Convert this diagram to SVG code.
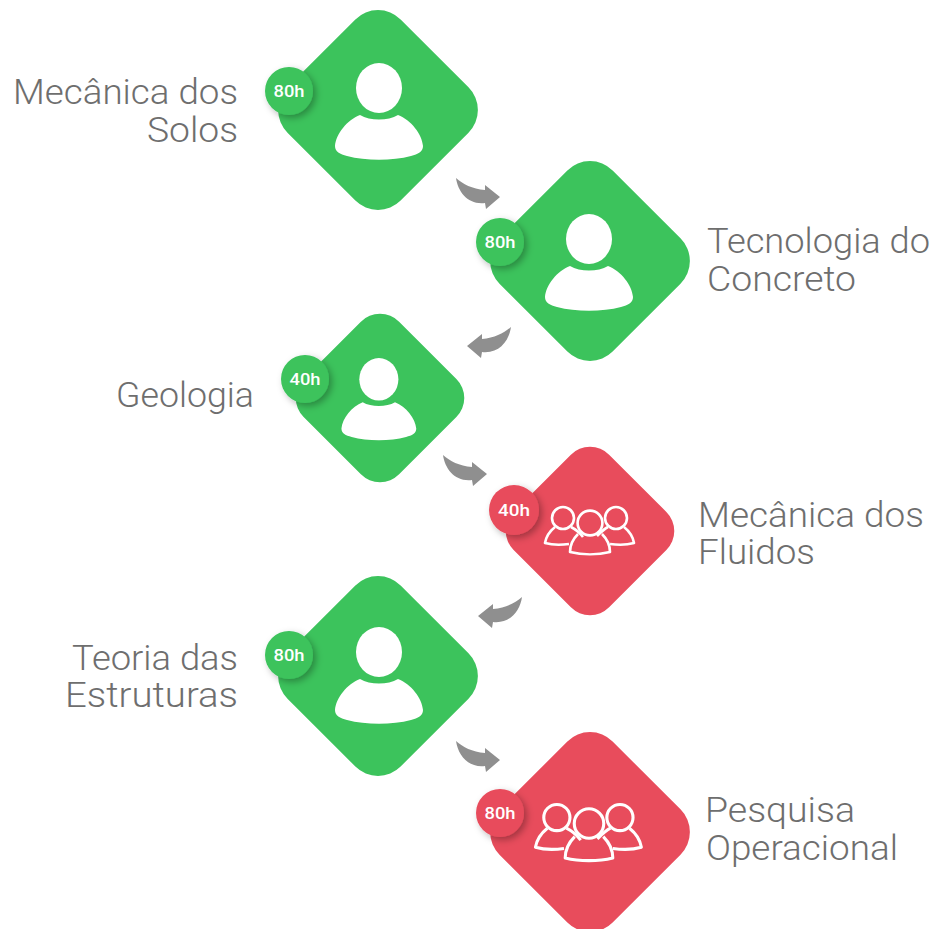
<svg xmlns="http://www.w3.org/2000/svg" width="937" height="929" viewBox="0 0 937 929">
<style>
.g{fill:#3cc35c}.r{fill:#e84c5c}
.lbl{font-family:"Roboto","Liberation Sans",sans-serif;font-weight:300;font-size:35px;fill:#6e6e6e}
.end{text-anchor:end}
.bt{font-family:"Roboto","Liberation Sans",sans-serif;font-weight:500;font-size:17px;fill:#fff;text-anchor:middle}
.arrow{fill:#8f8f8f}
.w{fill:#fff}
.o{fill:none;stroke:#fff;stroke-width:2.6;stroke-linejoin:round}
.badge{filter:url(#sh)}
</style>
<defs>
<filter id="sh" x="-40%" y="-40%" width="190%" height="190%"><feDropShadow dx="3" dy="3" stdDeviation="3.5" flood-color="#000" flood-opacity="0.3"/></filter>
<rect id="dl" x="-80" y="-80" width="160" height="160" rx="32" transform="rotate(45)"/>
<rect id="ds" x="-67.5" y="-67.5" width="135" height="135" rx="27" transform="rotate(45)"/>
<g id="person" class="w">
<ellipse cx="1" cy="-22" rx="23" ry="25"/>
<path d="M-18 5C-8 11 10 11 20 5C33 10 44 24 45 36C45 42 40 44 33 46C14 51-12 51-31 46C-38 44-43 42-43 36C-42 24-31 10-18 5Z"/>
</g>
<g id="team" class="o">
<circle cx="-27" cy="-13" r="11"/>
<circle cx="26" cy="-13" r="11"/>
<path d="M-35-4C-40 0-44 6-45 12C-38 14-28 14-21 13"/>
<path d="M-19-4C-15-2-10 2-7 6"/>
<path d="M34-4C39 0 43 6 44 12C37 14 27 14 20 13"/>
<path d="M18-4C14-2 10 2 7 5"/>
<circle cx="0" cy="-8" r="12.4"/>
<path d="M-12 3C-17 8-20 14-20 21C-8 24 8 24 20 21C20 14 17 8 12 3"/>
</g>
<path id="ar" d="M0 0C7 6 16 11 29 12L29 7L44 19L30 31L29 25C12 27 2 14 0 0Z"/>
</defs>
<rect width="937" height="929" fill="#fff"/>
<g id="connectors" class="arrow">
<use href="#ar" transform="translate(456 178)"/>
<use href="#ar" transform="translate(511 327) scale(-1 1)"/>
<use href="#ar" transform="translate(443 455)"/>
<use href="#ar" transform="translate(522 597) scale(-1 1)"/>
<use href="#ar" transform="translate(456 741)"/>
</g>
<g id="n1">
<use href="#dl" class="g" transform="translate(378 110)"/>
<use href="#person" transform="translate(378 110)"/>
<circle class="g badge" cx="289" cy="91" r="24"/>
<text class="bt" x="289" y="97" textLength="31" lengthAdjust="spacingAndGlyphs">80h</text>
<text class="lbl end" x="238" y="104" textLength="225" lengthAdjust="spacingAndGlyphs">Mecânica dos</text>
<text class="lbl end" x="238" y="142" textLength="91" lengthAdjust="spacingAndGlyphs">Solos</text>
</g>
<g id="n2">
<use href="#dl" class="g" transform="translate(590 261)"/>
<use href="#person" transform="translate(588 261)"/>
<circle class="g badge" cx="500" cy="242" r="24"/>
<text class="bt" x="500" y="248" textLength="31" lengthAdjust="spacingAndGlyphs">80h</text>
<text class="lbl" x="707" y="253" textLength="223" lengthAdjust="spacingAndGlyphs">Tecnologia do</text>
<text class="lbl" x="707" y="291" textLength="149" lengthAdjust="spacingAndGlyphs">Concreto</text>
</g>
<g id="n3">
<use href="#ds" class="g" transform="translate(380 398)"/>
<use href="#person" transform="translate(378 398) scale(.85)"/>
<circle class="g badge" cx="305" cy="379" r="24"/>
<text class="bt" x="305" y="385" textLength="31" lengthAdjust="spacingAndGlyphs">40h</text>
<text class="lbl end" x="254" y="407" textLength="138" lengthAdjust="spacingAndGlyphs">Geologia</text>
</g>
<g id="n4">
<use href="#ds" class="r" transform="translate(590 531)"/>
<use href="#team" transform="translate(590 531)"/>
<circle class="r badge" cx="514" cy="510" r="25"/>
<text class="bt" x="514" y="516" textLength="32" lengthAdjust="spacingAndGlyphs">40h</text>
<text class="lbl" x="698" y="527" textLength="226" lengthAdjust="spacingAndGlyphs">Mecânica dos</text>
<text class="lbl" x="698" y="564" textLength="117" lengthAdjust="spacingAndGlyphs">Fluidos</text>
</g>
<g id="n5">
<use href="#dl" class="g" transform="translate(378 676)"/>
<use href="#person" transform="translate(378 674)"/>
<circle class="g badge" cx="289" cy="655" r="24"/>
<text class="bt" x="289" y="661" textLength="31" lengthAdjust="spacingAndGlyphs">80h</text>
<text class="lbl end" x="238" y="670" textLength="166" lengthAdjust="spacingAndGlyphs">Teoria das</text>
<text class="lbl end" x="238" y="707" textLength="173" lengthAdjust="spacingAndGlyphs">Estruturas</text>
</g>
<g id="n6">
<use href="#dl" class="r" transform="translate(590 832)"/>
<use href="#team" transform="translate(589 833) scale(1.19)"/>
<circle class="r badge" cx="500" cy="813" r="24"/>
<text class="bt" x="500" y="819" textLength="31" lengthAdjust="spacingAndGlyphs">80h</text>
<text class="lbl" x="705" y="822" textLength="150" lengthAdjust="spacingAndGlyphs">Pesquisa</text>
<text class="lbl" x="706" y="860" textLength="192" lengthAdjust="spacingAndGlyphs">Operacional</text>
</g>
</svg>
